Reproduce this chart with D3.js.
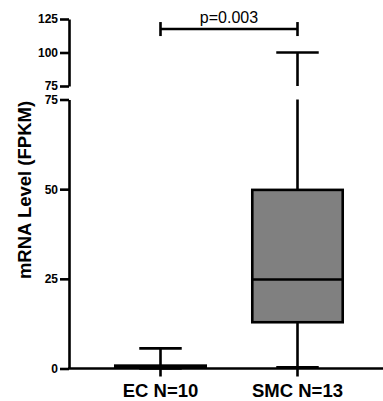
<!DOCTYPE html>
<html>
<head>
<meta charset="utf-8">
<script src="https://cdn.jsdelivr.net/npm/d3@7"></script>
<style>
  body { margin: 0; background: #fff; }
  svg { display: block; font-family: "Liberation Sans", Arial, sans-serif; }
  .axis path, .axis line { stroke: #000; stroke-width: 2.6px; }
  .axis text { font-size: 12px; font-weight: bold; fill: #000; }
</style>
</head>
<body>
<div id="chart"></div>
<script>
// data
var groups = ["EC N=10", "SMC N=13"];
var mins = [0, 0.3];
var q1s = [0.3, 12.9];
var medians = [0.5, 24.8];
var q3s = [0.8, 49.8];
var maxs = [5.6, 100];
var lowTicks = [0, 25, 50, 75];
var highTicks = [75, 100, 125];
var pText = "p=0.003";
var pLevel = 117.5;

var width = 383, height = 401;
var axisX = 69;

var svg = d3.select("#chart").append("svg")
  .attr("width", width)
  .attr("height", height);

// broken y axis: two linear segments
var yLow = d3.scaleLinear().domain([0, 75]).range([368.5, 99.5]);
var yHigh = d3.scaleLinear().domain([75, 125]).range([86, 19]);

var x = d3.scaleBand().domain(groups).range([92, 366]);

function xc(d) { return x(d) + x.bandwidth() / 2; }

// y axes
svg.append("g")
  .attr("class", "axis")
  .attr("transform", "translate(" + axisX + ",0)")
  .call(d3.axisLeft(yLow).tickValues(lowTicks).tickSize(9).tickSizeOuter(0).tickPadding(2));

svg.append("g")
  .attr("class", "axis")
  .attr("transform", "translate(" + axisX + ",0)")
  .call(d3.axisLeft(yHigh).tickValues(highTicks).tickSize(9).tickSizeOuter(0).tickPadding(2));

// x axis
var xAxis = svg.append("g")
  .attr("class", "axis")
  .attr("transform", "translate(0," + yLow(0) + ")")
  .call(d3.axisBottom(x).tickSize(8).tickSizeOuter(0).tickPadding(7));
xAxis.select(".domain").remove();
xAxis.append("line")
  .attr("x1", axisX - 1).attr("x2", width)
  .attr("y1", 0).attr("y2", 0)
  .attr("stroke", "#000").attr("stroke-width", 2.6);
xAxis.selectAll("text").style("font-size", "18.5px");

// y title
svg.append("text")
  .attr("transform", "translate(31,190) rotate(-90)")
  .attr("text-anchor", "middle")
  .style("font-size", "18.5px")
  .style("font-weight", "bold")
  .text("mRNA Level (FPKM)");

// boxes
var boxW = x.bandwidth() * 0.66;
var capW = x.bandwidth() * 0.31;
var lw = 2.6;

groups.forEach(function(g, i) {
  var cx = xc(g);
  var box = svg.append("g");

  // whiskers (split over the break when needed)
  function vline(v1, v2) {
    if (v2 <= 75) {
      box.append("line").attr("x1", cx).attr("x2", cx)
        .attr("y1", yLow(v1)).attr("y2", yLow(v2));
    } else {
      box.append("line").attr("x1", cx).attr("x2", cx)
        .attr("y1", yLow(v1)).attr("y2", yLow(75));
      box.append("line").attr("x1", cx).attr("x2", cx)
        .attr("y1", yHigh(75)).attr("y2", yHigh(v2));
    }
  }
  function ypos(v) { return v <= 75 ? yLow(v) : yHigh(v); }

  vline(q3s[i], maxs[i]);
  vline(mins[i], q1s[i]);

  [mins[i], maxs[i]].forEach(function(v) {
    box.append("line")
      .attr("x1", cx - capW / 2).attr("x2", cx + capW / 2)
      .attr("y1", ypos(v)).attr("y2", ypos(v));
  });

  box.append("rect")
    .attr("x", cx - boxW / 2)
    .attr("y", yLow(q3s[i]))
    .attr("width", boxW)
    .attr("height", yLow(q1s[i]) - yLow(q3s[i]))
    .attr("fill", "#808080");

  box.append("line")
    .attr("x1", cx - boxW / 2).attr("x2", cx + boxW / 2)
    .attr("y1", yLow(medians[i])).attr("y2", yLow(medians[i]));

  box.selectAll("line, rect")
    .attr("stroke", "#000")
    .attr("stroke-width", lw);
});

// significance bracket
var x1 = xc(groups[0]), x2 = xc(groups[1]), yb = yHigh(pLevel);
var br = svg.append("g").attr("stroke", "#000").attr("stroke-width", 2.6);
br.append("line").attr("x1", x1).attr("x2", x2).attr("y1", yb).attr("y2", yb);
br.append("line").attr("x1", x1).attr("x2", x1).attr("y1", yb - 7).attr("y2", yb + 7);
br.append("line").attr("x1", x2).attr("x2", x2).attr("y1", yb - 7).attr("y2", yb + 7);

svg.append("text")
  .attr("x", (x1 + x2) / 2)
  .attr("y", yb - 6)
  .attr("text-anchor", "middle")
  .style("font-size", "16px")
  .text(pText);
</script>
</body>
</html>
